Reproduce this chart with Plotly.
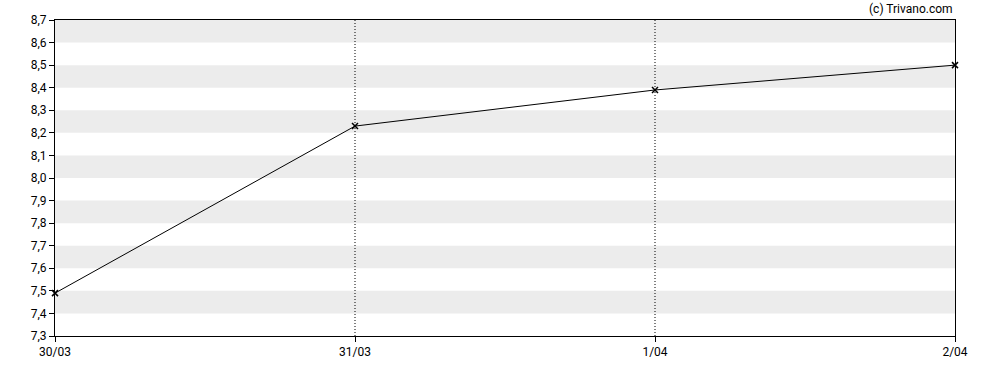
import plotly.graph_objects as go

dates = ["30/03", "31/03", "1/04", "2/04"]
values = [7.49, 8.23, 8.39, 8.50]
y_ticks = [7.3, 7.4, 7.5, 7.6, 7.7, 7.8, 7.9, 8.0, 8.1, 8.2, 8.3, 8.4, 8.5, 8.6, 8.7]
y_labels = [f"{v:.1f}".replace(".", ",") for v in y_ticks]

x = list(range(len(dates)))

fig = go.Figure()
fig.add_trace(go.Scatter(
    x=x, y=values, mode="lines+markers",
    line=dict(color="#000000", width=1),
    marker=dict(symbol="x-thin", size=6, color="#000000",
                line=dict(color="#000000", width=1.5)),
    cliponaxis=False,
    hoverinfo="skip", showlegend=False,
))

shapes = []
for i in range(len(y_ticks) - 1):
    if (len(y_ticks) - 2 - i) % 2 == 0:
        shapes.append(dict(type="rect", xref="paper", yref="y", x0=0, x1=1,
                           y0=y_ticks[i], y1=y_ticks[i + 1],
                           fillcolor="#ececec", line=dict(width=0), layer="below"))
for xi in x[1:-1]:
    shapes.append(dict(type="line", xref="x", yref="paper", x0=xi, x1=xi, y0=0, y1=1,
                       line=dict(color="#000000", width=1, dash="1px,2px"), layer="below"))

fig.update_layout(
    width=988, height=370,
    margin=dict(l=55, r=33, t=20, b=34),
    paper_bgcolor="white", plot_bgcolor="white",
    font=dict(family="Roboto, Arial, sans-serif", size=12, color="#000000"),
    shapes=shapes,
    xaxis=dict(range=[0, 3], tickvals=x, ticktext=dates, showgrid=False, zeroline=False,
               showline=True, linecolor="#000000", linewidth=1, mirror=True,
               ticks="outside", ticklen=5, tickcolor="#000000"),
    yaxis=dict(range=[7.3, 8.7], tickvals=y_ticks, ticktext=y_labels, showgrid=False,
               zeroline=False, showline=True, linecolor="#000000", linewidth=1, mirror=True,
               ticks="outside", ticklen=5, tickcolor="#000000"),
    annotations=[dict(text="(c) Trivano.com", xref="paper", yref="paper", x=1, y=1,
                      xanchor="right", yanchor="bottom", showarrow=False,
                      font=dict(size=12), yshift=2)],
)

fig.write_html("out.html")
